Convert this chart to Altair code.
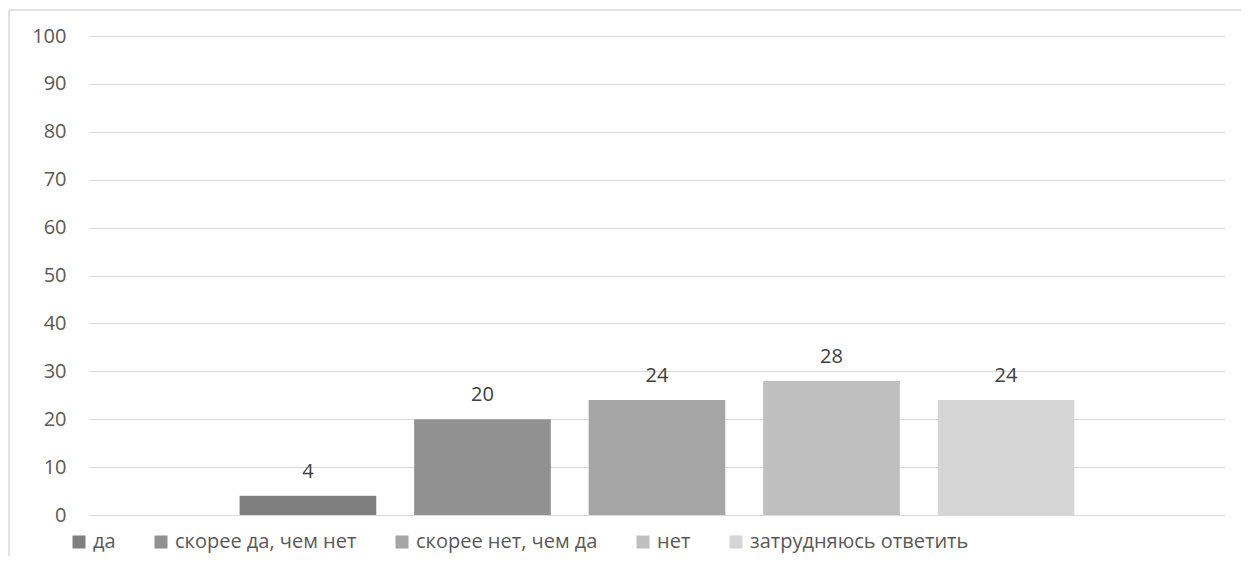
import altair as alt
import pandas as pd

categories = ["да", "скорее да, чем нет", "скорее нет, чем да", "нет", "затрудняюсь ответить"]
values = [4, 20, 24, 28, 24]
colors = ["#7f7f7f", "#919191", "#a5a5a5", "#bfbfbf", "#d5d5d5"]
y_ticks = list(range(0, 101, 10))

FONT = "Open Sans"
FS = 20
df = pd.DataFrame({"cat": categories, "val": values})

x = alt.X("cat:N", sort=categories,
          scale=alt.Scale(paddingInner=0.217, paddingOuter=0.863), axis=None)
y = alt.Y("val:Q", scale=alt.Scale(domain=[0, 100]),
          axis=alt.Axis(values=y_ticks, title=None, domain=False, ticks=False,
                        labelPadding=23, labelFontSize=FS, labelColor="#595959",
                        labelFont=FONT, gridColor="#d9d9d9", gridWidth=1))

color = alt.Color("cat:N", sort=categories,
                  scale=alt.Scale(domain=categories, range=colors),
                  legend=alt.Legend(orient="none", legendX=-20, legendY=496,
                                    direction="horizontal", columns=5, title=None,
                                    symbolType="square", symbolSize=169,
                                    symbolStrokeWidth=0, symbolOpacity=1,
                                    labelFontSize=FS, labelFont=FONT, labelLimit=0,
                                    labelColor="#595959", labelOffset=4,
                                    columnPadding=35))

frame_df = pd.DataFrame({"f": [0]})
frame_top = alt.Chart(frame_df).mark_rule(color="#d9d9d9", strokeWidth=1.5).encode(
    x=alt.value(-80), x2=alt.value(1400), y=alt.value(-26))
frame_left = alt.Chart(frame_df).mark_rule(color="#d9d9d9", strokeWidth=1.5).encode(
    x=alt.value(-80), y=alt.value(-26), y2=alt.value(900))

bars = alt.Chart(df).mark_bar().encode(x=x, y=y, color=color)

labels = alt.Chart(df).mark_text(
    dy=-18, baseline="alphabetic", fontSize=FS, color="#404040", font=FONT
).encode(x=x, y=y, text=alt.Text("val:Q"))

chart = alt.layer(frame_top, frame_left, bars, labels).properties(
    width=1136, height=479,
    padding={"left": 81, "top": 28, "right": 16, "bottom": 41},
    autosize=alt.AutoSizeParams(type="none"),
).configure_view(stroke=None)

chart.save("out.html", embed_options={"renderer": "svg", "actions": False})
